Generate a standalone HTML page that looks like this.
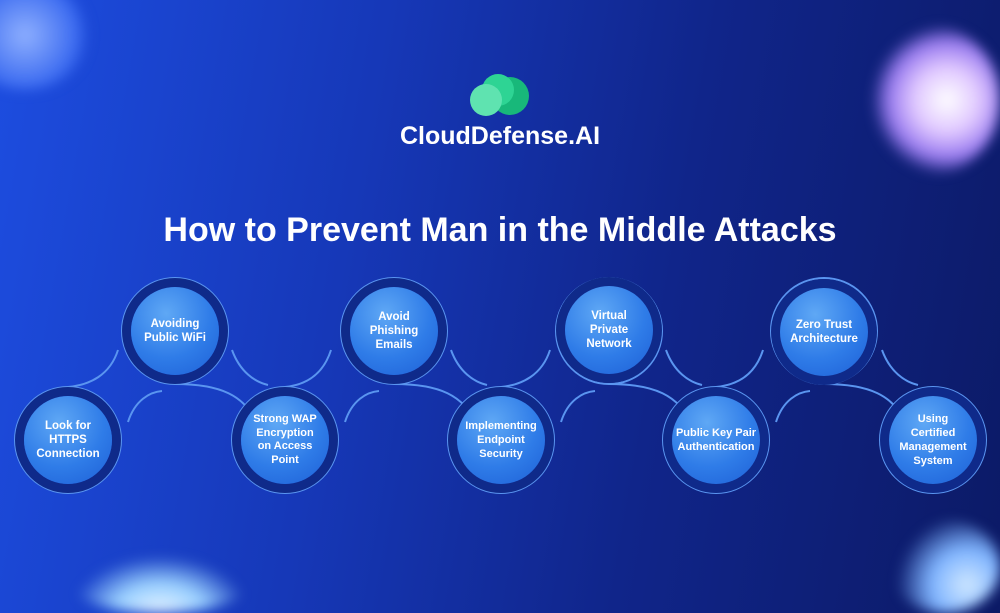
<!DOCTYPE html>
<html><head><meta charset="utf-8"><style>
html,body{margin:0;padding:0;width:1000px;height:613px;overflow:hidden}
#w{position:absolute;left:0;top:0;width:1000px;height:613px;overflow:hidden;font-family:"Liberation Sans",sans-serif;
background:linear-gradient(100deg,#1d4de0 0%,#1638b8 35%,#10258a 65%,#0c1a66 100%);}
.orb{position:absolute;border-radius:50%;filter:blur(6px)}
.t{position:absolute;left:0;width:1000px;text-align:center;color:#fff;font-weight:bold}
.n{position:absolute;width:88px;height:88px;border-radius:50%;display:flex;align-items:center;justify-content:center;text-align:center;color:#fff;font-weight:bold;font-size:11.5px;line-height:14px;
background:radial-gradient(circle at 40% 30%,#5fa8f5,#2f7ce8 55%,#1d5fd6);box-shadow:0 0 0 9px #0f2a8a}
</style></head><body><div id="w">
<div class="orb" style="left:-40px;top:-20px;width:130px;height:110px;background:radial-gradient(circle,#8fb0ff,#3d6cf0 60%,rgba(40,80,230,0) 75%)"></div>
<div class="orb" style="left:860px;top:25px;width:140px;height:150px;background:radial-gradient(circle at 62% 50%,#fff 0%,#e0c8ff 28%,#9a7cf0 50%,rgba(40,40,150,0) 66%)"></div>
<div class="orb" style="left:70px;top:555px;width:180px;height:58px;background:radial-gradient(ellipse at 50% 100%,#e8f4ff,#9ad0ff 35%,rgba(40,80,220,0) 70%)"></div>
<div class="orb" style="left:890px;top:520px;width:110px;height:93px;background:radial-gradient(circle at 70% 70%,#d0e8ff,#7fb4ff 35%,rgba(30,60,180,0) 70%)"></div>
<svg style="position:absolute;left:468px;top:72px" width="64" height="48">
<circle cx="42" cy="24" r="19" fill="#18b87a"/><circle cx="30" cy="18" r="16" fill="#2ed494"/><circle cx="18" cy="28" r="16" fill="#5fe3b0"/></svg>
<div class="t" style="top:122px;font-size:25px">CloudDefense.AI</div>
<div class="t" style="top:211px;font-size:34px">How to Prevent Man in the Middle Attacks</div>
<svg style="position:absolute;left:0;top:0" width="1000" height="613" fill="none" stroke="#5a95f0" stroke-width="2">
<g>
<circle cx="175" cy="331" r="53"/><circle cx="394" cy="331" r="53"/><circle cx="609" cy="331" r="53"/><circle cx="824" cy="331" r="53"/>
<circle cx="68" cy="440" r="53"/><circle cx="285" cy="440" r="53"/><circle cx="501" cy="440" r="53"/><circle cx="716" cy="440" r="53"/><circle cx="933" cy="440" r="53"/>
</g>
<path d="M118,350 C110,375 90,385 68,387"/>
<path d="M128,422 C135,400 150,392 162,391"/>
<path d="M232,350 C240,372 255,382 268,385"/>
<path d="M175,384 C220,384 245,395 258,425"/>
<path d="M331,350 C323,375 305,385 285,387"/>
<path d="M345,422 C352,400 367,392 379,391"/>
<path d="M451,350 C459,372 474,382 487,385"/>
<path d="M394,384 C439,384 464,395 477,425"/>
<path d="M550,350 C542,375 522,385 501,387"/>
<path d="M561,422 C568,400 583,392 595,391"/>
<path d="M666,350 C674,372 689,382 702,385"/>
<path d="M609,384 C654,384 679,395 692,425"/>
<path d="M763,350 C755,375 737,385 716,387"/>
<path d="M776,422 C783,400 798,392 810,391"/>
<path d="M882,350 C890,372 905,382 918,385"/>
<path d="M824,384 C869,384 894,395 907,425"/>
</svg>
<div class="n" style="left:131px;top:287px">Avoiding<br>Public WiFi</div>
<div class="n" style="left:350px;top:287px">Avoid<br>Phishing<br>Emails</div>
<div class="n" style="left:565px;top:286px">Virtual<br>Private<br>Network</div>
<div class="n" style="left:780px;top:288px">Zero Trust<br>Architecture</div>
<div class="n" style="left:24px;top:396px">Look for<br>HTTPS<br>Connection</div>
<div class="n" style="left:241px;top:396px;font-size:11px;line-height:13.5px">Strong WAP<br>Encryption<br>on Access<br>Point</div>
<div class="n" style="left:457px;top:396px;font-size:11px">Implementing<br>Endpoint<br>Security</div>
<div class="n" style="left:672px;top:396px;font-size:11px">Public Key Pair<br>Authentication</div>
<div class="n" style="left:889px;top:396px;font-size:11px">Using<br>Certified<br>Management<br>System</div>
</div></body></html>
